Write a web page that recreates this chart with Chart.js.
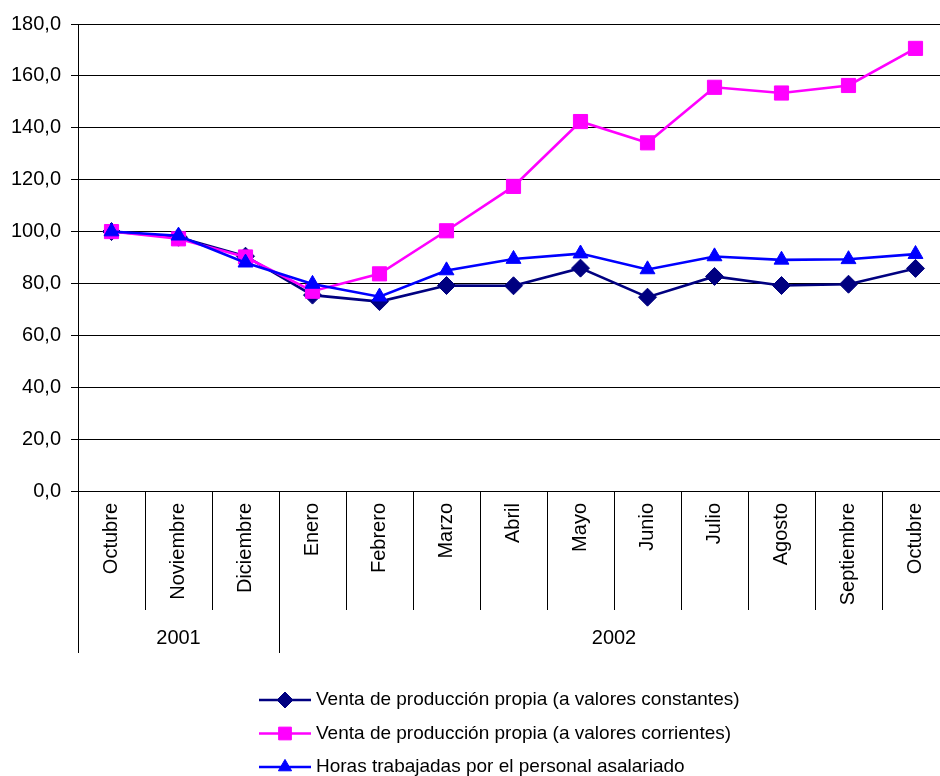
<!DOCTYPE html>
<html lang="es">
<head>
<meta charset="utf-8">
<title>Venta de producción propia y horas trabajadas</title>
<script src="https://cdn.jsdelivr.net/npm/chart.js@4.4.1/dist/chart.umd.min.js"></script>
<style>
  html, body { margin: 0; padding: 0; overflow: hidden; background: #fff; }
  canvas { display: block; }
</style>
</head>
<body>
<canvas id="chart" width="960" height="776"></canvas>
<script>
// Months (Oct 2001 - Oct 2002) and the year row underneath them
const months = ['Octubre', 'Noviembre', 'Diciembre', 'Enero', 'Febrero', 'Marzo', 'Abril',
                'Mayo', 'Junio', 'Julio', 'Agosto', 'Septiembre', 'Octubre'];
const years = ['2001', '2002'];
const yearSpans = [3, 10];

// Index values, Octubre 2001 = 100
const ventaConstantes = [100.0, 97.8, 90.5, 75.5, 73.0, 79.2, 79.1, 85.9, 74.7, 82.7, 79.2, 79.7, 85.8];
const ventaCorrientes = [100.0, 97.2, 90.2, 77.0, 83.7, 100.3, 117.4, 142.4, 134.2, 155.6, 153.4, 156.3, 170.6];
const horasTrabajadas = [100.0, 98.4, 88.0, 79.8, 74.9, 85.0, 89.4, 91.5, 85.4, 90.4, 89.1, 89.3, 91.3];

const seriesNames = [
  'Venta de producción propia (a valores constantes)',
  'Venta de producción propia (a valores corrientes)',
  'Horas trabajadas por el personal asalariado'
];

Chart.defaults.font.family = '"Liberation Sans", Arial, sans-serif';
Chart.defaults.color = '#000';

// Year row: long separators and centred year labels under the month ticks
const yearRow = {
  id: 'yearRow',
  afterDraw(chart) {
    const xs = chart.scales.x;
    const ctx = chart.ctx;
    const half = (xs.getPixelForValue(1) - xs.getPixelForValue(0)) / 2;
    ctx.save();
    ctx.strokeStyle = '#000';
    ctx.lineWidth = 1;
    ctx.fillStyle = '#000';
    ctx.font = '20px "Liberation Sans", Arial, sans-serif';
    ctx.textAlign = 'center';
    ctx.textBaseline = 'middle';
    let start = 0;
    years.forEach((yr, k) => {
      const end = start + yearSpans[k];
      const left = xs.getPixelForValue(start) - half;
      const right = xs.getPixelForValue(end - 1) + half;
      [left, right].forEach(px => {
        const x = Math.round(px) + 0.5;
        ctx.beginPath();
        ctx.moveTo(x, xs.top);
        ctx.lineTo(x, xs.bottom);
        ctx.stroke();
      });
      ctx.fillText(yr, (left + right) / 2, xs.bottom - 15);
      start = end;
    });
    ctx.restore();
  }
};

// Legend with a line through each marker, stacked under the chart
const lineLegend = {
  id: 'lineLegend',
  afterDraw(chart) {
    const ctx = chart.ctx;
    ctx.save();
    chart.data.datasets.forEach((ds, i) => {
      const y = 700 + i * 33.5;
      ctx.strokeStyle = ds.borderColor;
      ctx.lineWidth = ds.borderWidth;
      ctx.beginPath();
      ctx.moveTo(259, y);
      ctx.lineTo(311, y);
      ctx.stroke();
      ctx.fillStyle = ds.pointBackgroundColor;
      ctx.strokeStyle = ds.pointBorderColor;
      ctx.lineWidth = 1;
      Chart.helpers.drawPoint(ctx, {
        pointStyle: ds.pointStyle, radius: ds.pointRadius - 1, rotation: 0, borderWidth: 1
      }, 285, y);
      ctx.fillStyle = '#000';
      ctx.font = '19px "Liberation Sans", Arial, sans-serif';
      ctx.textAlign = 'left';
      ctx.textBaseline = 'middle';
      ctx.fillText(ds.label, 316, y);
    });
    ctx.restore();
  }
};

function lineSeries(label, data, color, style, radius, order) {
  return {
    label: label,
    data: data,
    borderColor: color,
    backgroundColor: color,
    borderWidth: 2.6,
    pointStyle: style,
    pointRadius: radius,
    pointHoverRadius: radius,
    pointBackgroundColor: color,
    pointBorderColor: color,
    pointBorderWidth: 1,
    tension: 0,
    order: order
  };
}

new Chart(document.getElementById('chart').getContext('2d'), {
  type: 'line',
  data: {
    labels: months,
    datasets: [
      lineSeries(seriesNames[0], ventaConstantes, '#000080', 'rectRot', 9, 2),
      lineSeries(seriesNames[1], ventaCorrientes, '#FF00FF', 'rect', 10, 1),
      lineSeries(seriesNames[2], horasTrabajadas, '#0000FF', 'triangle', 8.6, 0)
    ]
  },
  options: {
    responsive: false,
    animation: false,
    layout: { padding: { top: 24, right: 6, bottom: 123, left: 0 } },
    plugins: {
      legend: { display: false },
      tooltip: { enabled: false }
    },
    scales: {
      x: {
        offset: true,
        grid: {
          offset: true,
          drawOnChartArea: false,
          color: '#000',
          tickLength: 119,
          lineWidth: 1
        },
        border: { display: false },
        ticks: {
          minRotation: 90,
          maxRotation: 90,
          autoSkip: false,
          padding: -107,
          font: { size: 20 },
          color: '#000'
        },
        afterFit(scale) { scale.height = 162; }
      },
      y: {
        min: 0,
        max: 180,
        grid: { color: '#000', lineWidth: 1, tickLength: 7 },
        border: { color: '#000', width: 1 },
        ticks: {
          stepSize: 20,
          padding: 10,
          font: { size: 20 },
          color: '#000',
          callback: v => v.toFixed(1).replace('.', ',')
        },
        afterFit(scale) { scale.width = 78; }
      }
    }
  },
  plugins: [yearRow, lineLegend]
});
</script>
</body>
</html>
